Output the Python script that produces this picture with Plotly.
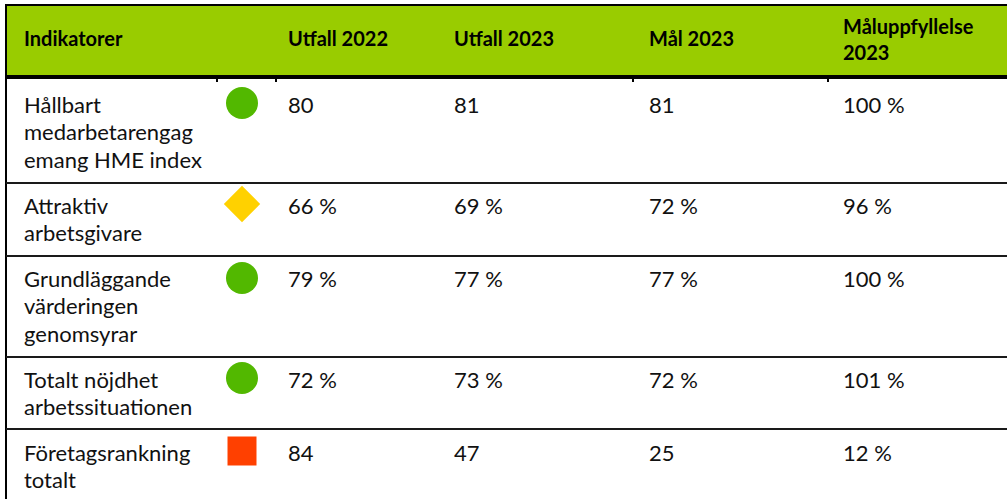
import plotly.graph_objects as go

# ---- data ----
headers = ["Indikatorer", "Utfall 2022", "Utfall 2023", "Mål 2023", "Måluppfyllelse<br>2023"]
indicators = [
    "Hållbart<br>medarbetarengag<br>emang HME index",
    "Attraktiv<br>arbetsgivare",
    "Grundläggande<br>värderingen<br>genomsyrar",
    "Totalt nöjdhet<br>arbetssituationen",
    "Företagsrankning<br>totalt",
]
status = ["green", "yellow", "green", "green", "red"]
utfall_2022 = ["80", "66 %", "79 %", "72 %", "84"]
utfall_2023 = ["81", "69 %", "77 %", "73 %", "47"]
mal_2023 = ["81", "72 %", "77 %", "72 %", "25"]
maluppfyllelse_2023 = ["100 %", "96 %", "100 %", "101 %", "12 %"]

# ---- layout / style ----
W, H = 1007, 499
col_x = [22, 286, 452, 647, 841]
sym_x = 242
row_lines = [183, 256, 357, 429]
first_line_y = [104, 205, 278, 379, 452]
sym_y = [103, 204, 278, 378, 451]
line_h = 27.5
body_font = dict(family="Lato", size=22, color="#111111")
head_font = dict(family="Lato", size=20, color="#000000")
status_style = {
    "green": dict(symbol="circle", color="#52b800", size=32),
    "yellow": dict(symbol="diamond", color="#ffd100", size=28),
    "red": dict(symbol="square", color="#ff4000", size=29),
}

fig = go.Figure()

# header background and borders
fig.add_shape(type="rect", x0=6, x1=W, y0=5, y1=76, fillcolor="#99cc00", line_width=0, layer="below")
fig.add_shape(type="line", x0=5, x1=W, y0=5, y1=5, line=dict(color="#000000", width=2))
fig.add_shape(type="line", x0=6, x1=W, y0=77, y1=77, line=dict(color="#000000", width=4))
fig.add_shape(type="line", x0=6, x1=6, y0=4, y1=H, line=dict(color="#000000", width=2))
for xs in [217, 276, 633, 828]:
    fig.add_shape(type="line", x0=xs, x1=xs, y0=78, y1=82, line=dict(color="#000000", width=2))
for yl in row_lines:
    fig.add_shape(type="line", x0=6, x1=W, y0=yl, y1=yl, line=dict(color="#1a1a1a", width=2))

annotations = []
# headers
for cx, htxt in zip(col_x, headers):
    lines = htxt.split("<br>")
    if len(lines) == 1:
        ys = [37.5]
    else:
        ys = [25.5 + i * 26.5 for i in range(len(lines))]
    for ln, yy in zip(lines, ys):
        annotations.append(dict(x=cx, y=yy, xref="x", yref="y", text="<b>" + ln + "</b>",
                                showarrow=False, xanchor="left", yanchor="middle", font=head_font))

# body
columns = [indicators, utfall_2022, utfall_2023, mal_2023, maluppfyllelse_2023]
for ci, (cx, col) in enumerate(zip(col_x, columns)):
    for ri, val in enumerate(col):
        for li, ln in enumerate(val.split("<br>")):
            annotations.append(dict(x=cx, y=first_line_y[ri] + li * line_h, xref="x", yref="y",
                                    text=ln, showarrow=False, xanchor="left", yanchor="middle",
                                    font=body_font))

# status symbols
fig.add_trace(go.Scatter(
    x=[sym_x] * len(status), y=sym_y, mode="markers",
    marker=dict(symbol=[status_style[s]["symbol"] for s in status],
                color=[status_style[s]["color"] for s in status],
                size=[status_style[s]["size"] for s in status],
                opacity=1, line=dict(width=0)),
    hoverinfo="skip", showlegend=False,
))

fig.update_layout(
    width=W, height=H, margin=dict(l=0, r=0, t=0, b=0),
    paper_bgcolor="white", plot_bgcolor="white",
    xaxis=dict(range=[0, W], visible=False, fixedrange=True),
    yaxis=dict(range=[H, 0], visible=False, fixedrange=True),
    annotations=annotations, showlegend=False,
)
fig.write_html("out.html", config={"displayModeBar": False},
               post_script="document.body.style.margin='0';document.body.style.overflow='hidden';")
